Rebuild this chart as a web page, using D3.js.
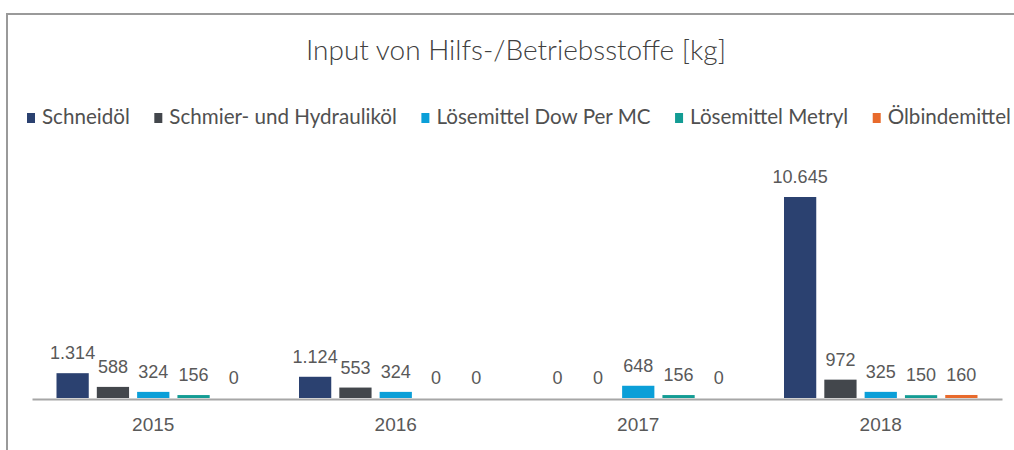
<!DOCTYPE html>
<html>
<head>
<meta charset="utf-8">
<script src="https://cdn.jsdelivr.net/npm/d3@7"></script>
<style>
  body { margin: 0; background: #fff; }
  svg text { font-family: "Liberation Sans", Arial, sans-serif; }
</style>
</head>
<body>
<div class="grafico"></div>
<script>
// Jahre und Stoffe
var jahre = ["2015", "2016", "2017", "2018"];
var stoffe = ["Schneidöl", "Schmier- und Hydrauliköl", "Lösemittel Dow Per MC", "Lösemittel Metryl", "Ölbindemittel"];
var farben = ["#2b4170", "#43474c", "#0b9fd8", "#139c94", "#e86a2c"];

// Werte in kg, eine Liste je Stoff (2015..2018)
var schneidoel = [1314, 1124, 0, 10645];
var schmieroel = [588, 553, 0, 972];
var loeseDow = [324, 324, 648, 325];
var loeseMetryl = [156, 0, 156, 150];
var oelbinde = [0, 0, 0, 160];
var werte = [schneidoel, schmieroel, loeseDow, loeseMetryl, oelbinde];

var width = 1014;
var height = 450;

var svg = d3.select(".grafico")
  .append("svg")
  .attr("width", width)
  .attr("height", height);

// Rahmen
svg.append("path")
  .attr("d", "M7," + height + "V14H" + width)
  .attr("fill", "none")
  .attr("stroke", "#9a9a9a")
  .attr("stroke-width", 2);

// Titel
svg.append("text")
  .attr("x", 516)
  .attr("y", 60)
  .attr("text-anchor", "middle")
  .attr("fill", "#404040")
  .style("font-family", "Lato, sans-serif")
  .style("font-weight", 300)
  .style("font-size", "28px")
  .text("Input von Hilfs-/Betriebsstoffe [kg]");

// Legende
var legende = svg.append("g").attr("transform", "translate(27, 113)");
var lx = 0;
stoffe.forEach(function(s, i){
  var g = legende.append("g").attr("transform", "translate(" + lx + ",0)");
  g.append("rect").attr("width", 8).attr("height", 10).attr("fill", farben[i]);
  var t = g.append("text")
    .attr("x", 15)
    .attr("y", 11)
    .attr("fill", "#505050")
    .style("font-family", "Lato, sans-serif")
    .style("font-size", "20.6px")
    .text(s);
  lx += 15 + t.node().getComputedTextLength() + 24.5;
});

// Skalen
var x0 = d3.scaleBand()
  .domain(jahre)
  .range([32, 1002]);

var x1 = d3.scaleBand()
  .domain(d3.range(stoffe.length))
  .range([24.5, x0.bandwidth() - 24.5])
  .paddingInner(0.2);

var y = d3.scaleLinear()
  .domain([0, 10645])
  .range([398, 197]);

var de = d3.formatLocale({ decimal: ",", thousands: ".", grouping: [3], currency: ["", " €"] });
var fmt = de.format(",d");

var gruppen = svg.selectAll("g.jahr")
  .data(jahre)
  .enter()
  .append("g")
  .attr("class", "jahr")
  .attr("transform", function(d){ return "translate(" + x0(d) + ",0)"; });

gruppen.selectAll("rect")
  .data(function(d, j){ return werte.map(function(w, i){ return { i: i, v: w[j] }; }); })
  .enter()
  .append("rect")
  .attr("x", function(d){ return x1(d.i); })
  .attr("width", x1.bandwidth())
  .attr("y", function(d){ return y(d.v); })
  .attr("height", function(d){ return y(0) - y(d.v); })
  .attr("fill", function(d){ return farben[d.i]; });

gruppen.selectAll("text")
  .data(function(d, j){ return werte.map(function(w, i){ return { i: i, v: w[j] }; }); })
  .enter()
  .append("text")
  .attr("x", function(d){ return x1(d.i) + x1.bandwidth() / 2; })
  .attr("y", function(d){ return y(d.v) - 14; })
  .attr("text-anchor", "middle")
  .attr("fill", "#595959")
  .style("font-size", "18px")
  .text(function(d){ return fmt(d.v); });

// X-Achse
var xAchse = svg.append("g")
  .attr("transform", "translate(0, 399)")
  .call(d3.axisBottom(x0).tickSize(0).tickPadding(19));

xAchse.select(".domain").attr("stroke", "#a6a6a6").attr("stroke-width", 2);
xAchse.selectAll("text")
  .attr("fill", "#595959")
  .style("font-family", "'Liberation Sans', Arial, sans-serif")
  .style("font-size", "19px");
</script>
</body>
</html>
